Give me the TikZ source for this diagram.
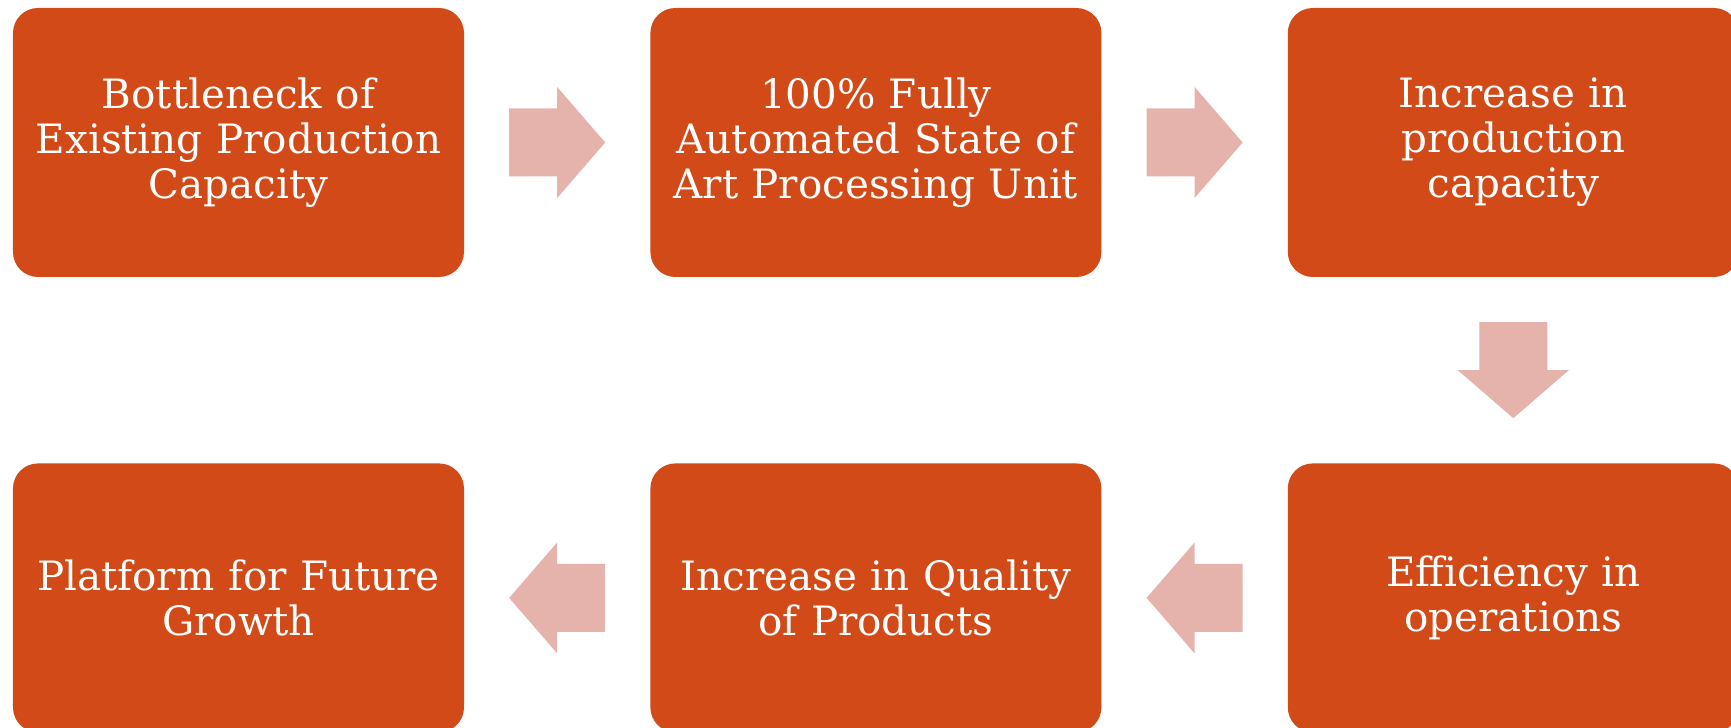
\documentclass[tikz,border=0pt]{standalone}
\usepackage{fontspec}
\setmainfont{DejaVu Serif}
\usetikzlibrary{positioning,calc}
\definecolor{boxorange}{HTML}{D14A17}
\definecolor{arrowpink}{HTML}{E6B2AC}
\tikzset{
    stepbox/.style={rectangle, rounded corners=0.25cm, fill=boxorange, text=white, minimum width=4.51cm, minimum height=2.69cm, text width=4.3cm, align=center, inner sep=0, font=\fontsize{11.5}{12.8}\selectfont},
    blockarrow/.pic={\fill[arrowpink] (-0.48,-0.34) -- (0,-0.34) -- (0,-0.555) -- (0.48,0) -- (0,0.555) -- (0,0.34) -- (-0.48,0.34) -- cycle;}
}
\begin{document}
\begin{tikzpicture}[node distance=1.85cm]
    \useasboundingbox (0,0) rectangle (17.31,-7.28);
    \node[stepbox] (b1) at (2.385,-1.425) {Bottleneck of\\Existing Production\\Capacity};
    \node[stepbox, right=of b1] (b2) {100\% Fully\\Automated State of\\Art Processing Unit};
    \node[stepbox, right=of b2] (b3) {Increase in\\production\\capacity};
    \node[stepbox, below=of b3] (b4) {Efficiency in\\operations};
    \node[stepbox, left=of b4] (b5) {Increase in Quality\\of Products};
    \node[stepbox, left=of b5] (b6) {Platform for Future\\Growth};
    \pic at ($(b1.east)!0.5!(b2.west)$) {blockarrow};
    \pic at ($(b2.east)!0.5!(b3.west)$) {blockarrow};
    \pic[rotate=-90] at ($(b3.south)!0.5!(b4.north)$) {blockarrow};
    \pic[rotate=180] at ($(b4.west)!0.5!(b5.east)$) {blockarrow};
    \pic[rotate=180] at ($(b5.west)!0.5!(b6.east)$) {blockarrow};
\end{tikzpicture}
\end{document}
